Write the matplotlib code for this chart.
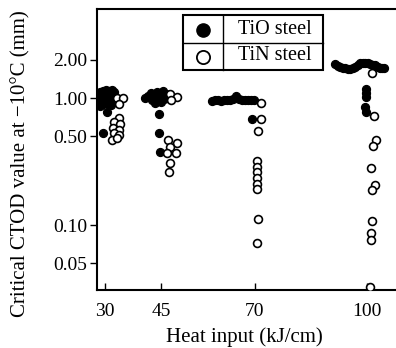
import matplotlib
matplotlib.use("Agg")
import matplotlib.pyplot as plt
from matplotlib.lines import Line2D
from matplotlib.patches import Rectangle

plt.rcParams['font.family'] = ['Liberation Serif', 'DejaVu Serif']
plt.rcParams['mathtext.fontset'] = 'stix'

# ---- data ----
heat_ticks = [30, 45, 70, 100]
heat_labels = ["30", "45", "70", "100"]
ctod_ticks = [0.05, 0.10, 0.50, 1.00, 2.00]
ctod_labels = ["0.05", "0.10", "0.50", "1.00", "2.00"]

tio_x = [28.66, 29.47, 30.27, 31.07, 31.87, 32.40, 28.66, 29.73, 30.80, 31.87,
         28.93, 30.00, 31.07, 32.14, 29.47, 30.53, 31.60, 28.66, 30.53, 29.47,
         41.49, 42.29, 43.09, 43.89, 44.69, 45.50, 46.30, 42.56, 44.16, 45.76,
         43.36, 44.96, 40.69, 46.56, 44.43, 44.43, 44.69,
         58.59, 59.39, 60.19, 60.99, 61.79, 62.59, 63.40, 64.20, 65.00, 65.80,
         66.60, 67.40, 68.20, 69.01, 69.81, 69.27,
         91.45, 92.25, 92.79, 93.59, 94.12, 94.92, 95.46, 96.26, 96.79, 97.60,
         98.13, 98.93, 99.47, 100.27, 100.80, 101.60, 102.14, 102.94, 103.48,
         104.02, 104.55,
         99.73, 99.73, 99.73, 99.47, 99.73]
tio_y = [1.115, 1.135, 1.156, 1.135, 1.156, 1.115, 1.037, 1.056, 1.075, 1.037,
         0.964, 0.982, 0.982, 0.964, 0.897, 0.913, 0.881, 0.865, 0.776, 0.531,
         1.037, 1.095, 1.018, 1.115, 1.056, 1.135, 1.075, 0.964, 0.964, 0.982,
         0.913, 0.930, 1.000, 1.000, 0.748, 0.531, 0.376,
         0.950, 0.960, 0.960, 0.950, 0.960, 0.960, 0.970, 0.975, 1.030, 0.990,
         0.970, 0.970, 0.960, 0.960, 0.960, 0.685,
         1.852, 1.790, 1.754, 1.730, 1.722, 1.700, 1.691, 1.720, 1.754, 1.818,
         1.886, 1.886, 1.886, 1.870, 1.852, 1.818, 1.818, 1.760, 1.722,
         1.722, 1.722,
         1.177, 1.095, 1.018, 0.850, 0.776]

tin_x = [33.21, 34.81, 33.74, 33.74, 32.40, 34.01, 32.14, 33.74, 32.40, 33.74,
         31.87, 33.21,
         47.37, 49.24, 47.63, 46.83, 49.24, 47.37, 48.97, 46.56, 47.37, 47.10,
         71.68, 71.68, 70.88, 70.61, 70.61, 70.61, 70.61, 70.61, 70.61, 70.88,
         70.61,
         101.34, 101.87, 102.41, 101.60, 101.07, 102.14, 101.34, 101.34, 101.07,
         101.07, 100.80]
tin_y = [1.000, 1.000, 0.897, 0.696, 0.647, 0.624, 0.581, 0.560, 0.531, 0.512,
         0.468, 0.484,
         1.075, 1.018, 0.964, 0.468, 0.443, 0.412, 0.369, 0.369, 0.308, 0.262,
         0.913, 0.685, 0.550, 0.319, 0.287, 0.262, 0.235, 0.211, 0.193, 0.112,
         0.072,
         1.573, 0.722, 0.468, 0.419, 0.281, 0.207, 0.189, 0.108, 0.087, 0.076,
         0.0325]

series_names = ["TiO steel", "TiN steel"]

# ---- figure ----
fig = plt.figure(figsize=(3.96, 3.48), dpi=100)
ax = fig.add_axes([97 / 396, 58 / 348, 0.77, 281 / 348])

ax.scatter(tio_x, tio_y, s=32, facecolor='black', edgecolor='black',
           linewidth=1.0, zorder=3)
ax.scatter(tin_x, tin_y, s=32, facecolor='white', edgecolor='black',
           linewidth=1.2, zorder=4)

ax.set_yscale('log')
ax.set_ylim(0.0308, 5.02)
ax.set_xlim(27.86, 109.35)

ax.set_xticks(heat_ticks)
ax.set_xticklabels(heat_labels)
ax.set_yticks(ctod_ticks)
ax.set_yticklabels(ctod_labels)
ax.yaxis.set_minor_locator(matplotlib.ticker.NullLocator())

ax.tick_params(axis='x', direction='in', length=5, width=1.0, labelsize=14, pad=9)
ax.tick_params(axis='y', direction='out', length=5, width=1.0, labelsize=14, pad=2)

for side in ['left', 'bottom', 'top']:
    ax.spines[side].set_linewidth(1.5)
ax.spines['right'].set_visible(False)

W = 305.0
H = 281.0
def fx(px):
    return (px - 97) / W
def fy(py):
    return (290 - py) / H

ax.set_xlabel("Heat input (kJ/cm)", fontsize=15)
ax.xaxis.set_label_coords(fx(244), fy(327))
ax.set_ylabel("Critical CTOD value at \u221210\u00b0C (mm)", fontsize=15)
ax.yaxis.set_label_coords(fx(30), fy(164))

# ---- table-style legend ----
x0, x1, xv = fx(183), fx(323), fx(223)
yt, yb, ym = fy(15), fy(70), fy(43)
ax.add_patch(Rectangle((x0, yb), x1 - x0, yt - yb, transform=ax.transAxes,
                       facecolor='white', edgecolor='black', linewidth=1.5, zorder=6))
ax.add_line(Line2D([x0, x1], [ym, ym], transform=ax.transAxes, color='black',
                   linewidth=1.0, zorder=7))
ax.add_line(Line2D([xv, xv], [yb, yt], transform=ax.transAxes, color='black',
                   linewidth=1.0, zorder=7))
mx = fx(203)
ax.plot([mx], [fy(30)], 'o', markersize=9.5, markerfacecolor='black',
        markeredgecolor='black', transform=ax.transAxes, zorder=8, clip_on=False)
ax.plot([mx], [fy(57)], 'o', markersize=9.5, markerfacecolor='white',
        markeredgecolor='black', markeredgewidth=1.3, transform=ax.transAxes,
        zorder=8, clip_on=False)
tx = fx(275)
ax.text(tx, fy(29), series_names[0], transform=ax.transAxes, ha='center',
        va='center', fontsize=14.5, zorder=8)
ax.text(tx, fy(56), series_names[1], transform=ax.transAxes, ha='center',
        va='center', fontsize=14.5, zorder=8)

fig.savefig("out.png", dpi=100)
